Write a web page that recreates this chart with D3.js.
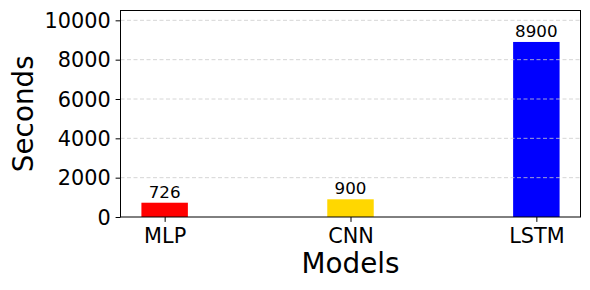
<!DOCTYPE html>
<html><head><meta charset="utf-8">
<script src="https://cdn.jsdelivr.net/npm/d3@7"></script>
<style>body{margin:0;background:#fff}svg{display:block}text{font-family:"DejaVu Sans",sans-serif}</style>
</head><body><svg id="c" width="590" height="290"></svg>
<script>
const categories = ["MLP", "CNN", "LSTM"];
const values = [726, 900, 8900];
const colors = ["#ff0000", "#ffd700", "#0000ff"];
const yTicks = [0, 2000, 4000, 6000, 8000, 10000];

const svg = d3.select("#c");
const L = 120.5, R = 580.5, T = 10.5, B = 217;
const x = d3.scaleLinear().domain([-0.2375, 2.2375]).range([L, R]);
const y = d3.scaleLinear().domain([0, 10500]).range([B, T]);
const bw = 0.25;

// bars
svg.selectAll("rect.bar").data(values).enter().append("rect")
  .attr("x", (d, i) => x(i - bw / 2)).attr("width", (d, i) => x(i + bw / 2) - x(i - bw / 2))
  .attr("y", d => y(d)).attr("height", d => B - y(d))
  .attr("fill", (d, i) => colors[i]);

// grid on top
const gridG = svg.append("g");
gridG.selectAll("line").data(yTicks.filter(t => t > 0)).enter().append("line")
  .attr("x1", L).attr("x2", R).attr("y1", d => y(d)).attr("y2", d => y(d))
  .attr("stroke", "#cccccc").attr("stroke-width", 0.8).attr("stroke-dasharray", "4,2.5");

// bar labels
svg.selectAll("text.lab").data(values).enter().append("text")
  .attr("x", (d, i) => x(i)).attr("y", d => y(d) - 5)
  .attr("text-anchor", "middle").attr("font-size", "16.7px").attr("fill", "#000")
  .text(d => d);

// axes
const yAxis = d3.axisLeft(y).tickValues(yTicks).tickSize(4.9).tickPadding(4.9).tickFormat(d3.format("d"));
const gy = svg.append("g").attr("transform", `translate(${L},0)`).call(yAxis);
gy.select(".domain").remove();
gy.selectAll("text").attr("font-size", "20.8px").attr("font-family", "DejaVu Sans").attr("fill", "#000").attr("dy", "0.35em");
gy.selectAll("line").attr("stroke", "#000").attr("stroke-width", 1);

const xAxis = d3.axisBottom(x).tickValues([0, 1, 2]).tickFormat((d) => categories[d]).tickSize(4.9).tickPadding(4.9);
const gx = svg.append("g").attr("transform", `translate(0,${B})`).call(xAxis);
gx.select(".domain").remove();
gx.selectAll("text").attr("font-size", "20.8px").attr("font-family", "DejaVu Sans").attr("fill", "#000").attr("dy", "0.76em");
gx.selectAll("line").attr("stroke", "#000").attr("stroke-width", 1);

// frame
svg.append("rect").attr("x", L).attr("y", T).attr("width", R - L).attr("height", B - T)
  .attr("fill", "none").attr("stroke", "#000").attr("stroke-width", 1);

// axis titles
svg.append("text").attr("x", (L + R) / 2).attr("y", 273.3).attr("text-anchor", "middle")
  .attr("font-size", "27.8px").attr("fill", "#000").text("Models");
svg.append("text").attr("transform", `translate(33,${(T + B) / 2}) rotate(-90)`).attr("text-anchor", "middle")
  .attr("font-size", "27.8px").attr("fill", "#000").text("Seconds");
</script></body></html>
